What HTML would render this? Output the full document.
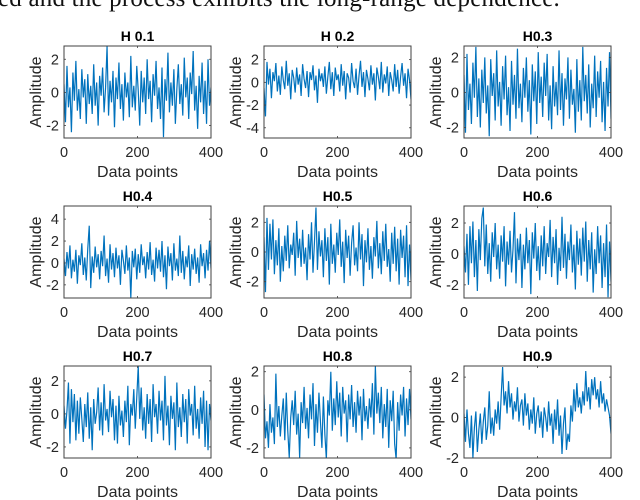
<!DOCTYPE html>
<html><head><meta charset="utf-8">
<style>
html,body{margin:0;padding:0;background:#fff;}
#wrap{position:relative;width:640px;height:500px;overflow:hidden;}
#hdr{position:absolute;left:-2px;top:-15px;font-family:"Liberation Serif",serif;font-size:25px;color:#111;white-space:nowrap;letter-spacing:0.2px;}
svg{position:absolute;left:0;top:0;}
</style></head><body>
<div id="wrap">
<div id="hdr">ed and the process exhibits the long-range dependence.</div>
<svg id="chart" width="640" height="500"></svg>
</div>
<script>
const titles=["H 0.1","H 0.2","H0.3","H0.4","H0.5","H0.6","H0.7","H0.8","H0.9"];
const xTicks=[0,200,400];
const yTicksP1=[-2,0,2],yTicksP2=[-4,-2,0,2],yTicksP3=[-2,0,2],yTicksP4=[-2,0,2,4],yTicksP5=[-2,0,2],yTicksP6=[-2,0,2],yTicksP7=[-2,0,2],yTicksP8=[-2,0,2],yTicksP9=[-2,0,2];
const yLims=[[-2.75,2.8],[-4.9,3.2],[-2.6,2.65],[-3.2,5.2],[-3.1,3.1],[-2.85,3.1],[-2.67,2.9],[-2.53,2.3],[-2.0,2.55]];
const seriesH1=[0.5,-1.8,1.6,-0.9,0.3,-2.4,1.2,-0.5,1.9,-1.1,0.2,-1.6,1.4,-0.3,0.8,-1.9,1.1,-0.7,0.4,-1.3,1.7,-0.8,0.6,-2.0,1.0,-0.2,1.5,-1.2,0.3,2.8,-1.4,0.7,-0.6,1.3,-2.1,0.9,-0.4,1.8,-1.0,0.5,-1.7,1.2,-0.3,0.6,-1.5,2.2,-0.9,0.4,-1.1,1.6,0.1,-2.0,1.3,-0.6,0.9,-1.3,2.0,-0.4,0.7,-1.8,1.1,-0.2,1.9,-1.0,0.3,-1.6,1.5,-2.7,0.8,-0.5,2.4,-1.2,0.6,-0.8,1.4,-1.9,0.2,1.7,-0.7,0.5,-1.4,2.1,-0.3,0.9,-1.6,1.2,-0.1,2.5,-1.1,0.4,-2.2,1.0,-0.6,1.8,-1.3,0.7,-1.9,2.0,-0.8,0.3];
const seriesH2=[-0.5,-3.0,1.8,-0.2,1.2,-1.4,0.9,0.1,1.7,-0.8,0.6,-1.1,1.4,0.2,-0.6,1.9,-0.3,0.8,-1.5,1.1,0.4,-0.9,1.3,-0.2,0.7,-1.2,1.6,0.3,-0.5,1.0,-1.3,0.9,0.2,1.5,-0.7,0.6,-1.8,1.2,0.1,0.8,-0.4,1.4,-1.0,0.5,1.8,-0.6,0.9,-1.2,1.3,0.2,0.7,-0.8,1.6,-0.3,1.0,-1.5,0.8,0.4,-0.9,1.7,0.1,-0.5,1.2,-1.1,0.6,1.9,-0.4,0.9,-1.3,1.1,0.3,-0.7,1.5,-0.2,0.8,-1.6,1.3,0.5,-0.6,1.8,-0.9,0.7,-0.1,1.4,-1.2,0.9,0.2,-0.8,1.6,-0.4,1.1,-1.0,0.5,1.7,-0.3,0.8,-1.4,1.2,0.2,-1.5];
const seriesH3=[1.0,-2.3,2.2,-1.0,0.5,-1.8,1.7,-0.3,2.6,-1.4,0.8,-2.0,1.3,-0.6,2.0,-1.2,0.4,-2.5,1.9,-0.2,1.1,-1.6,2.4,-0.8,0.6,-1.9,1.5,-0.4,2.1,-1.3,0.3,-2.2,1.8,-0.7,1.0,-1.5,2.5,-0.9,0.5,-1.7,1.4,-0.3,2.0,-1.1,0.7,-2.4,1.6,-0.5,1.2,-1.8,2.3,-0.6,0.9,-1.4,1.7,-0.2,2.2,-1.6,0.4,-2.1,1.5,-0.8,0.6,-1.3,2.4,-1.0,1.1,-1.9,0.8,-0.4,2.0,-1.5,1.3,-0.7,0.2,-2.3,1.9,-1.1,0.7,-1.6,2.6,-0.5,1.0,-1.2,1.6,-2.0,0.5,-0.9,2.1,-1.4,1.2,-0.3,1.8,-1.7,0.6,-2.2,1.4,-0.8,2.3,-1.5];
const seriesH4=[0.4,-1.2,1.0,-0.5,1.6,-1.4,0.3,-0.8,1.2,-1.9,0.7,-0.2,1.8,-1.1,0.5,-1.6,1.3,3.4,-2.3,0.6,-0.9,1.5,-0.4,0.8,-1.5,1.1,-0.3,2.5,-1.2,0.4,-1.8,1.7,-0.6,0.9,-1.3,1.4,-0.5,0.7,-2.0,1.2,0.2,-1.0,1.6,-0.7,0.5,-3.2,1.1,-0.4,1.3,-1.5,0.8,-0.9,1.7,-0.2,0.6,-1.4,1.0,-0.6,1.9,-1.1,0.3,-1.7,1.4,-0.5,1.2,-0.8,2.0,-1.3,0.7,-2.4,1.5,-0.3,0.9,-1.6,1.8,-0.7,0.4,-1.2,2.5,-0.9,1.1,-1.5,0.6,-0.4,1.6,-2.1,0.8,-0.6,1.3,-1.0,0.5,-1.8,1.7,-0.3,0.9,-1.4,1.2,-0.7,2.0,-0.5];
const seriesH5=[1.0,-2.7,2.3,-1.2,1.9,-0.5,2.2,-1.5,0.8,-0.9,1.6,-2.0,0.4,-1.3,1.1,-0.6,1.8,-1.1,0.5,-0.2,1.3,-1.6,2.1,-0.4,0.9,-1.0,1.5,-0.8,0.3,-1.9,1.2,-0.5,2.0,-1.4,0.7,3.0,-1.2,1.4,-0.3,0.8,-1.7,1.6,-0.6,1.0,-2.2,1.9,-0.8,0.5,-1.4,1.3,-0.2,2.2,-1.0,0.7,-2.1,1.5,-0.4,1.1,-1.6,0.6,1.8,-0.9,0.3,-1.3,2.0,-0.5,1.2,-2.3,0.8,-0.7,1.6,-1.2,0.4,-1.8,1.0,-0.3,2.1,-1.1,0.6,-1.5,1.4,-0.6,1.9,-1.0,0.2,-2.0,1.3,-0.8,1.7,-1.3,0.9,-2.2,1.5,-0.4,1.1,-1.7,1.8,-2.3,0.5,-1.9];
const seriesH6=[0.5,-1.2,1.3,-2.0,1.8,-0.6,2.1,-1.5,0.9,-2.4,1.6,-0.4,2.3,3.0,-0.8,1.9,-1.3,0.7,-1.8,1.4,-0.2,2.0,-1.0,0.6,-1.6,1.2,-0.5,1.8,-2.1,0.8,-0.7,1.5,-1.2,0.3,2.7,-1.9,1.0,-0.4,1.3,-2.2,0.6,-1.0,1.7,-0.6,0.9,-2.6,1.4,-0.3,2.0,-1.1,0.5,-1.7,1.2,-0.8,1.8,-1.3,0.7,-0.2,2.2,-1.5,1.1,-0.6,1.6,-2.0,0.4,-1.1,2.4,-0.9,1.3,-1.6,0.8,-0.4,1.9,-1.2,0.6,-2.3,1.5,-0.7,1.0,-1.4,1.7,-0.5,2.1,-1.8,0.9,-1.0,1.4,-2.5,0.3,-1.3,1.8,-0.6,1.2,-2.2,0.7,-1.5,1.9,-2.8,0.8,-1.8];
const seriesH7=[0.5,-0.9,0.2,1.9,-1.8,1.5,-0.5,1.2,-1.6,0.8,-1.2,1.0,-0.3,-1.7,0.6,-0.8,1.3,-1.5,0.4,-2.2,0.9,-0.6,0.1,1.6,-1.0,0.7,-1.3,1.8,-0.4,0.3,-1.1,1.4,-0.2,0.9,-1.6,0.5,-1.8,1.1,-0.7,0.2,-1.4,0.8,-0.5,1.7,-1.9,0.6,-0.1,1.5,-0.9,1.0,2.9,-0.3,1.6,-1.0,0.4,-1.5,1.2,-0.6,0.9,-1.7,1.8,-0.2,0.6,-1.2,1.4,-0.4,0.8,-1.6,2.3,-0.7,0.5,-1.9,1.1,-0.3,0.7,-2.2,1.9,-0.8,0.4,-1.4,1.2,-0.5,0.9,-1.8,1.5,-0.1,0.6,-1.3,1.7,-0.9,0.3,-1.5,1.0,-0.6,1.4,-2.0,0.8,-2.2,0.6,-0.4];
const seriesH8=[0.8,-1.5,-0.6,-2.0,0.3,-1.2,-0.4,-1.8,1.9,-0.9,0.2,-1.4,-0.3,0.6,-1.6,0.9,-1.1,-2.5,-0.4,0.5,-0.8,1.0,-1.3,-0.2,-2.5,0.4,-0.7,1.2,-1.0,0.1,-1.5,0.8,-0.5,1.4,-1.9,0.3,-1.2,0.9,-0.6,-2.0,0.7,-1.3,-2.6,0.5,-0.3,2.0,-1.1,0.6,-0.8,1.5,-0.4,0.9,-1.4,1.2,-0.2,0.5,-1.7,0.8,-0.5,1.3,-0.9,0.4,-1.2,1.0,-0.3,0.7,-1.6,1.1,-0.6,0.2,-1.0,0.6,-0.4,1.4,-1.3,2.3,-0.2,0.9,-0.7,1.2,-1.5,0.3,-0.9,1.1,-2.0,0.5,-0.6,1.0,-1.8,-2.6,0.4,-1.1,0.8,-0.3,1.2,-1.4,0.6,-0.8,1.1,-0.5];
const seriesH9=[0.2,-1.2,0.4,-0.8,-1.5,0.1,-2.0,-0.5,0.3,-1.7,-0.6,0.2,-1.3,-0.2,0.5,-1.1,-0.4,1.3,-0.8,0.0,-0.9,0.4,-0.3,0.8,-0.6,1.0,2.5,0.6,1.3,0.2,1.8,0.5,1.2,-0.1,0.8,0.3,1.5,-0.2,0.6,0.9,-0.4,1.2,0.1,0.7,-0.6,0.4,-0.3,1.0,-0.8,0.2,0.6,-0.5,0.3,-1.0,0.5,0.0,-0.7,0.8,-0.4,0.2,-1.3,0.4,-0.6,0.9,-0.9,0.1,-1.8,-0.3,0.5,-1.6,-0.8,-1.2,0.6,-0.2,1.4,0.3,1.7,0.5,1.0,0.2,1.3,0.6,2.3,0.8,1.5,0.4,1.9,1.1,2.0,0.9,1.4,0.5,1.8,0.7,1.2,0.3,0.9,0.5,0.1,-0.8];
const allSeries=[seriesH1,seriesH2,seriesH3,seriesH4,seriesH5,seriesH6,seriesH7,seriesH8,seriesH9];
const allYTicks=[yTicksP1,yTicksP2,yTicksP3,yTicksP4,yTicksP5,yTicksP6,yTicksP7,yTicksP8,yTicksP9];
const X_MAX=400;

const NS="http://www.w3.org/2000/svg";
const svg=document.getElementById('chart');
const colLeft=[64,264,464], rowTop=[46,206,366], W=147, H=92;
function mk(tag,attrs,parent){const e=document.createElementNS(NS,tag);for(const k in attrs)e.setAttribute(k,attrs[k]);(parent||svg).appendChild(e);return e;}
const F='"Liberation Sans",Arial,sans-serif';
for(let p=0;p<9;p++){
  const L=colLeft[p%3],T=rowTop[Math.floor(p/3)];
  const [y0,y1]=yLims[p];
  const xs=v=>L+v/X_MAX*W;
  const ys=v=>T+H-(v-y0)/(y1-y0)*H;
  const g=mk('g',{});
  
  
  const data=allSeries[p];
  const n=data.length;
  let d='';
  data.forEach((v,i)=>{const x=xs(i*X_MAX/(n-1));d+=(i?'L':'M')+x.toFixed(2)+' '+ys(v).toFixed(2);});
  const cp=mk('clipPath',{id:'c'+p},g);mk('rect',{x:L,y:T,width:W,height:H},cp);
  const line=mk('path',{d:d,fill:'none',stroke:'#0072BD','stroke-width':1.2,'clip-path':'url(#c'+p+')'},g);
  
  
  const box=mk('rect',{x:L,y:T,width:W,height:H,fill:'none',stroke:'#404040','stroke-width':1},g);
  
  
  xTicks.forEach(t=>{const x=xs(t);
    mk('line',{x1:x,x2:x,y1:T+H,y2:T+H-2,stroke:'#404040','stroke-width':0.8},g);
    mk('line',{x1:x,x2:x,y1:T,y2:T+2,stroke:'#404040','stroke-width':0.8},g);
    const tl=mk('text',{x:x,y:T+H+19,'text-anchor':'middle','font-family':F,'font-size':14.5,fill:'#262626'},g);tl.textContent=t;
    
    
  });
  allYTicks[p].forEach(t=>{const y=ys(t);
    mk('line',{x1:L,x2:L+2,y1:y,y2:y,stroke:'#404040','stroke-width':0.8},g);
    mk('line',{x1:L+W,x2:L+W-2,y1:y,y2:y,stroke:'#404040','stroke-width':0.8},g);
    const tl=mk('text',{x:L-5,y:y+5,'text-anchor':'end','font-family':F,'font-size':14.5,fill:'#262626'},g);tl.textContent=t;
    
    
  });
  const tt=mk('text',{x:L+W/2,y:T-5,'text-anchor':'middle','font-family':F,'font-size':14,'font-weight':'bold',fill:'#000'},g);tt.textContent=titles[p];
  
  
  const xl=mk('text',{x:L+W/2,y:T+H+39,'text-anchor':'middle','font-family':F,'font-size':16,fill:'#262626'},g);xl.textContent='Data points';
  
  
  const yx=L-23,yy=T+H/2;
  const yl=mk('text',{x:yx,y:yy,'text-anchor':'middle','font-family':F,'font-size':16,fill:'#262626',transform:'rotate(-90 '+yx+' '+yy+')'},g);yl.textContent='Amplitude';
  
  
}
</script>
</body></html>
